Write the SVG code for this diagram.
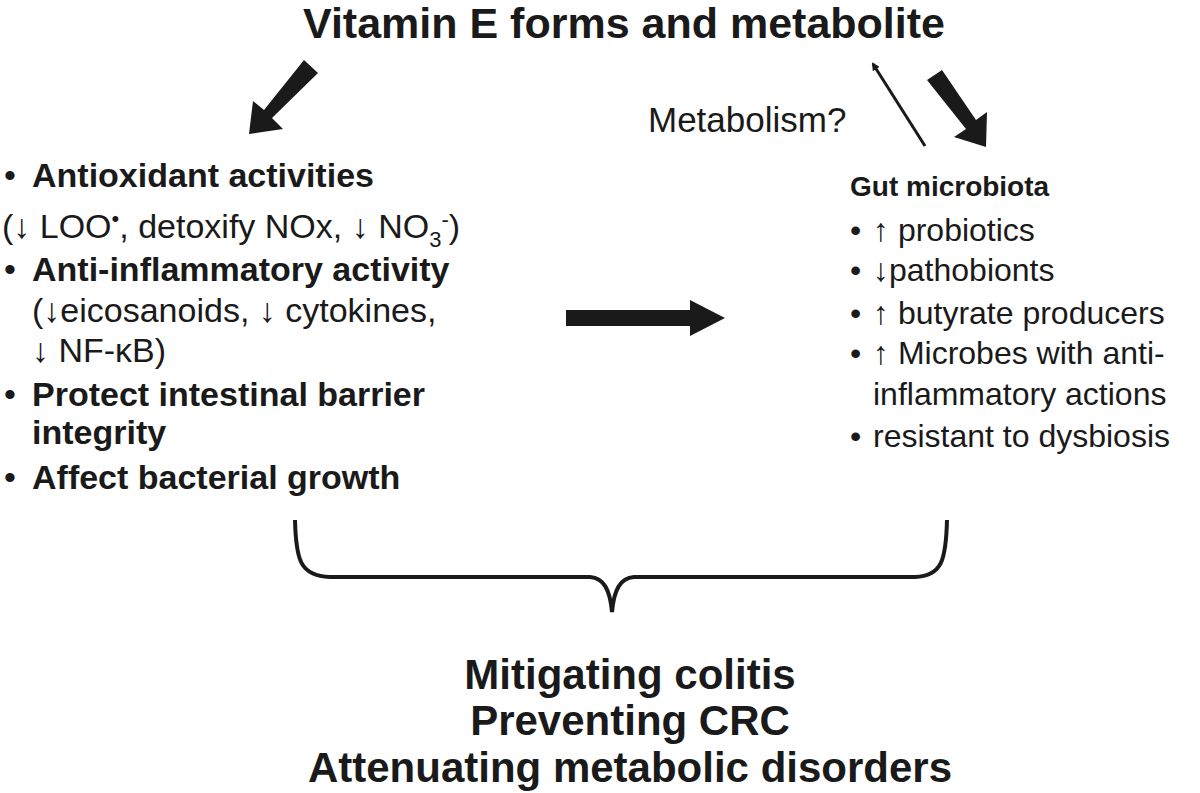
<svg xmlns="http://www.w3.org/2000/svg" width="1200" height="793" viewBox="0 0 1200 793">
<style>
text{font-family:"Liberation Sans",Arial,sans-serif;fill:#1a1a1a}
.t{font-size:34px}
.r{font-size:32px}
.b{font-weight:bold}
.h{font-size:43px;font-weight:bold}
</style>
<defs>
<marker id="thin" markerWidth="8" markerHeight="8" refX="6" refY="4" orient="auto" markerUnits="userSpaceOnUse" viewBox="0 0 8 8"><path d="M0,0 L8,4 L0,8 z" fill="#1a1a1a"/></marker>
</defs>
<rect width="1200" height="793" fill="#fff"/>
<g id="title"><text class="h" x="624" y="38" text-anchor="middle">Vitamin E forms and metabolite</text></g>
<g id="left">
<text class="t" x="4" y="187">•</text><text class="t b" x="32" y="187">Antioxidant activities</text>
<text class="t" x="2" y="238">(↓ LOO<tspan dy="-12" font-size="22">•</tspan><tspan dy="12">, detoxify NOx, ↓ NO</tspan><tspan dy="9" font-size="22">3</tspan><tspan dy="-20" font-size="22">-</tspan><tspan dy="11">)</tspan></text>
<text class="t" x="4" y="281">•</text><text class="t b" x="32" y="281">Anti-inflammatory activity</text>
<text class="t" x="32" y="322">(↓eicosanoids, ↓ cytokines,</text>
<text class="t" x="32" y="362">↓ NF-κB)</text>
<text class="t" x="4" y="406">•</text><text class="t b" x="32" y="406">Protect intestinal barrier</text>
<text class="t b" x="32" y="444">integrity</text>
<text class="t" x="4" y="489">•</text><text class="t b" x="32" y="489">Affect bacterial growth</text>
</g>
<g id="right">
<text class="b" font-size="28" x="850" y="196">Gut microbiota</text>
<text class="r" x="850" y="241">•</text><text class="r" x="873" y="241">↑ probiotics</text>
<text class="r" x="850" y="281">•</text><text class="r" x="873" y="281">↓pathobionts</text>
<text class="r" x="850" y="324">•</text><text class="r" x="873" y="324">↑ butyrate producers</text>
<text class="r" x="850" y="364">•</text><text class="r" x="873" y="364">↑ Microbes with anti-</text>
<text class="r" x="873" y="405">inflammatory actions</text>
<text class="r" x="850" y="447">•</text><text class="r" x="873" y="447">resistant to dysbiosis</text>
</g>
<g id="metab"><text x="648" y="132" font-family="Inter,sans-serif" font-size="35" fill="#1a1a1a">Metabolism?</text></g>
<g id="outcome">
<text class="h" x="630" y="689" text-anchor="middle" style="font-size:42px">Mitigating colitis</text>
<text class="h" x="630" y="735" text-anchor="middle" style="font-size:42px">Preventing CRC</text>
<text class="h" x="630" y="782" text-anchor="middle" style="font-size:42px">Attenuating metabolic disorders</text>
</g>
<g id="connectors" fill="#1a1a1a">
<path d="M304,60 L318,73 L272,118 L283,129 L249,134 L253,101 L264,110 Z"/>
<path d="M927,80 L942,70 L976,120 L987,112 L986,147 L954,137 L966,129 Z"/>
<line x1="925" y1="146" x2="873" y2="64" stroke="#1a1a1a" stroke-width="3" marker-end="url(#thin)"/>
<path d="M566,310 L690,310 L690,300 L725,318 L690,336 L690,326 L566,326 Z"/>
<path d="M295,520 C296,560 300,576 330,577 L590,577 C604,578 610,590 612,612 C614,590 620,578 634,577 L915,577 C942,576 946,560 947,520" fill="none" stroke="#1a1a1a" stroke-width="4"/>
</g>
</svg>
